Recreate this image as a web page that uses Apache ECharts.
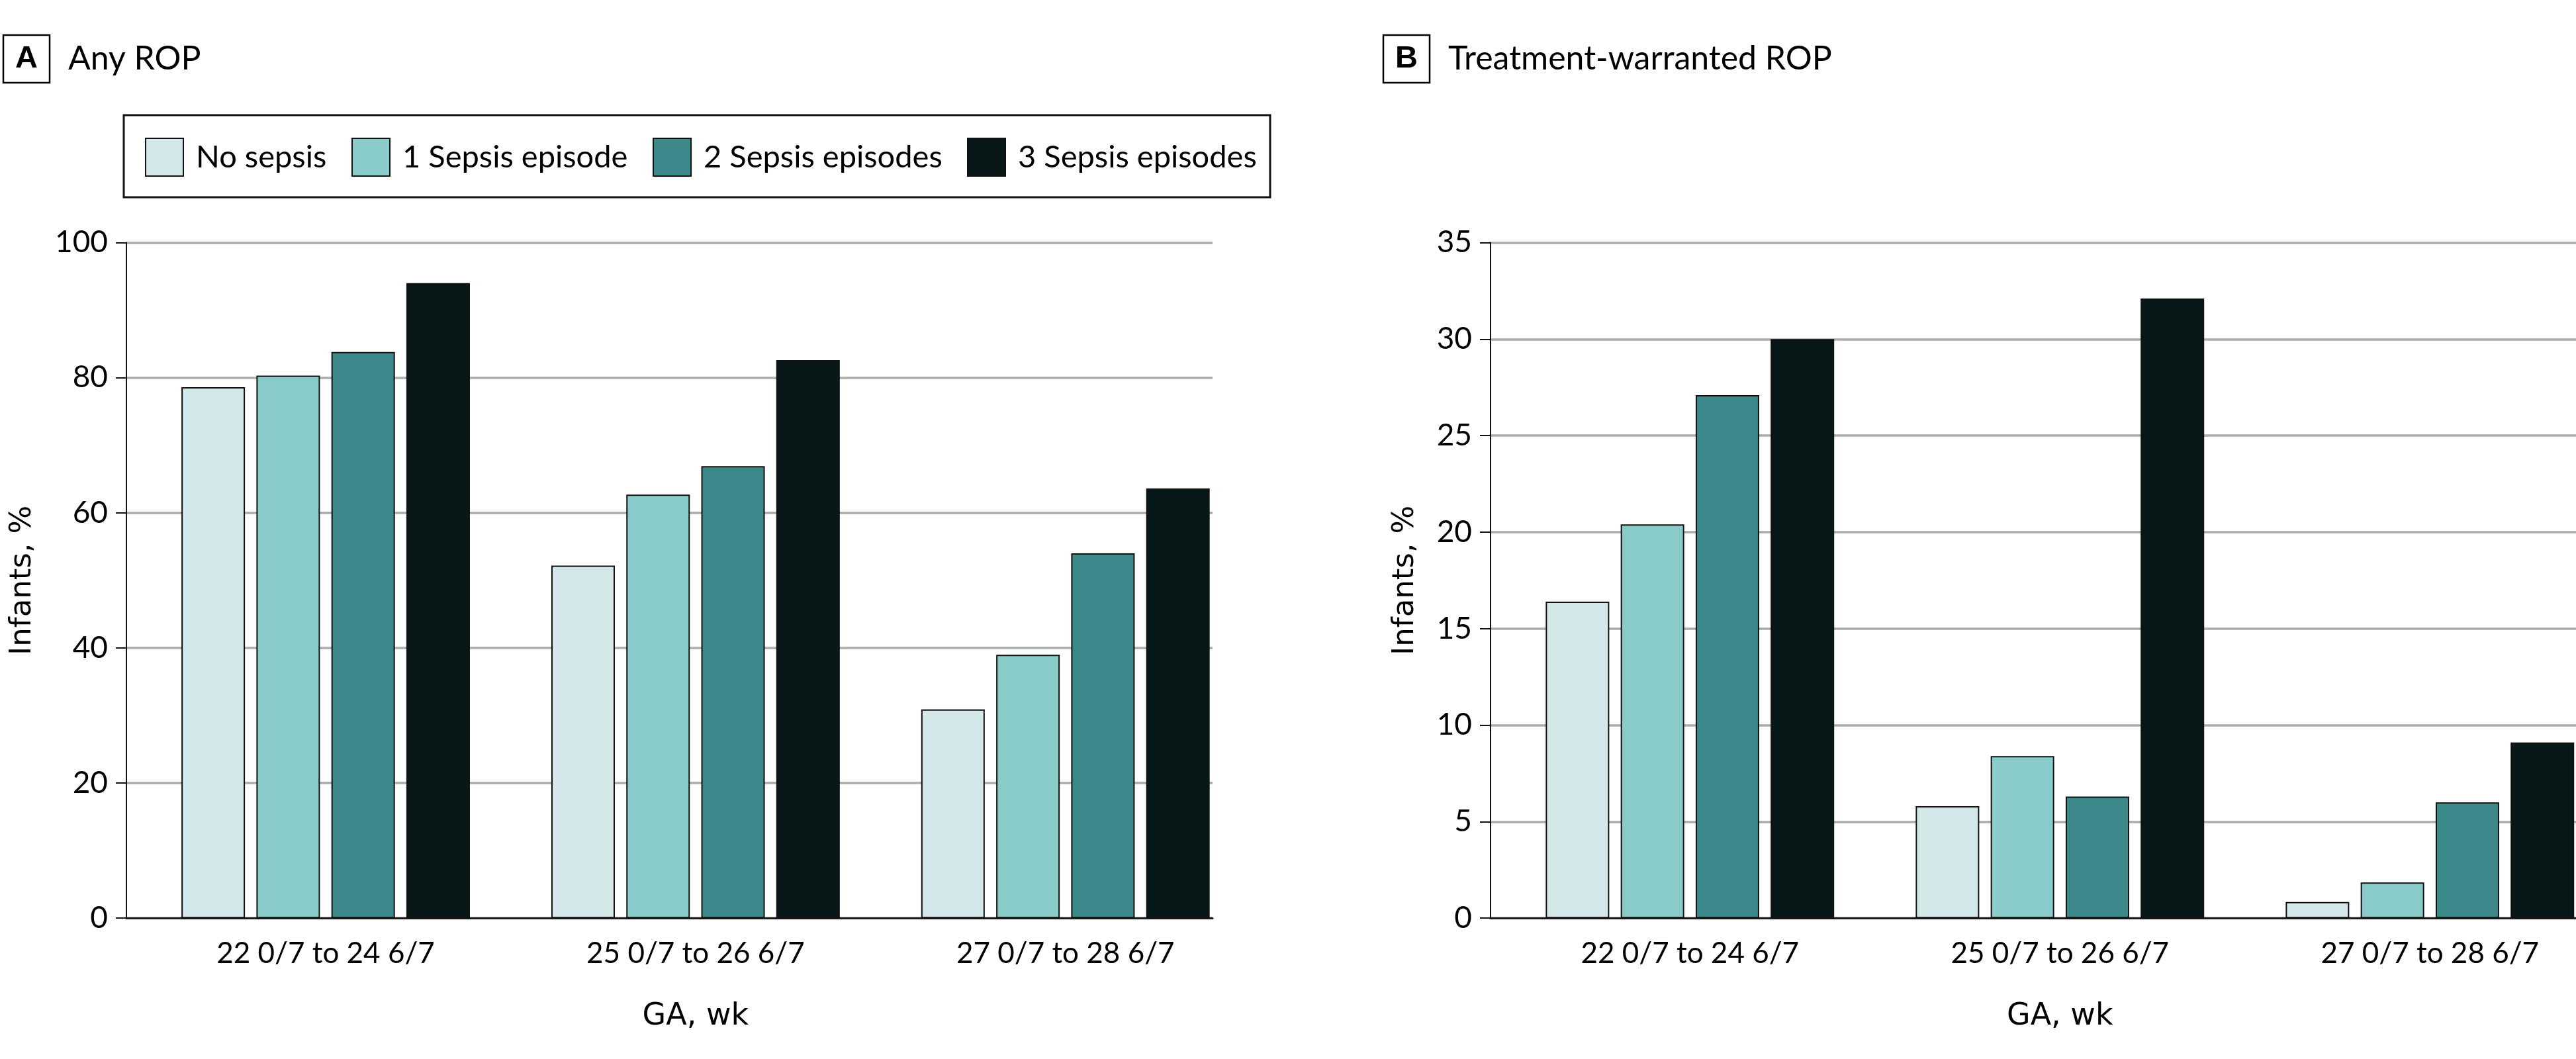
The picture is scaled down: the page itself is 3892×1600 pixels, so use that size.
<!DOCTYPE html>
<html>
<head>
<meta charset="utf-8">
<script src="https://cdn.jsdelivr.net/npm/echarts@6/dist/echarts.min.js"></script>
<style>html,body{margin:0;padding:0;background:#fff;}#main{width:3892px;height:1600px;}</style>
</head>
<body>
<div id="main"></div>
<script>
// ---- data ----
const categories = ['22 0/7 to 24 6/7', '25 0/7 to 26 6/7', '27 0/7 to 28 6/7'];
const seriesNames = ['No sepsis', '1 Sepsis episode', '2 Sepsis episodes', '3 Sepsis episodes'];
// Panel A: Any ROP (%)
const anyNoSepsis = [78.6, 52.2, 30.9];
const anySepsis1 = [80.3, 62.7, 39.0];
const anySepsis2 = [83.8, 66.9, 54.0];
const anySepsis3 = [94.0, 82.6, 63.6];
// Panel B: Treatment-warranted ROP (%)
const trtNoSepsis = [16.4, 5.8, 0.84];
const trtSepsis1 = [20.4, 8.4, 1.85];
const trtSepsis2 = [27.1, 6.3, 6.0];
const trtSepsis3 = [30.0, 32.1, 9.1];
// axis ticks
const yTicksA = [0, 20, 40, 60, 80, 100];
const yTicksB = [0, 5, 10, 15, 20, 25, 30, 35];
const panelTitles = ['Any ROP', 'Treatment-warranted ROP'];
const panelLetters = ['A', 'B'];
const xAxisName = 'GA, wk';
const yAxisName = 'Infants, %';

// ---- styles ----
const colors = ['#d4e8ea', '#88cbc9', '#3b8989', '#081818'];
const NARROW = "Lato, 'Liberation Sans', sans-serif";
const WIDE = "'DejaVu Sans', Verdana, sans-serif";
const PLOT_TOP = 366.5, PLOT_H = 1020.7;

const chart = echarts.init(document.getElementById('main'));

function frameY(gridIndex, ticks, nameGap) {
  return {
    gridIndex, type: 'value', min: ticks[0], max: ticks[ticks.length - 1],
    interval: ticks[1] - ticks[0],
    axisLine: {show: true, lineStyle: {color: '#111', width: 2}},
    axisTick: {show: true, length: 16, lineStyle: {color: '#111', width: 2}},
    axisLabel: {margin: 28, fontSize: 46, fontFamily: NARROW, color: '#000'},
    splitLine: {show: true, lineStyle: {color: '#ababab', width: 3.5}},
    name: yAxisName, nameLocation: 'middle', nameRotate: 90, nameGap,
    nameTextStyle: {fontFamily: WIDE, fontSize: 45, color: '#000'}
  };
}
function hiddenY(gridIndex, ticks) {
  return {gridIndex, type: 'value', min: ticks[0], max: ticks[ticks.length - 1],
    interval: ticks[1] - ticks[0], show: false, splitLine: {show: false}};
}
function barX(gridIndex) {
  return {
    gridIndex, type: 'category', data: categories,
    axisLine: {show: false}, axisTick: {show: false}, splitLine: {show: false},
    axisLabel: {margin: 32, fontSize: 44, fontFamily: NARROW, color: '#000'},
    name: xAxisName, nameLocation: 'middle', nameGap: 126,
    nameTextStyle: {fontFamily: WIDE, fontSize: 46, color: '#000'}
  };
}
function frameX(gridIndex) {
  return {
    gridIndex, type: 'category', data: categories,
    axisLine: {show: true, lineStyle: {color: '#1a1a1a', width: 3}},
    axisTick: {show: false}, axisLabel: {show: false}, splitLine: {show: false}
  };
}
function barSeries(name, data, idx, axisIndex) {
  return {
    type: 'bar', name, data, xAxisIndex: axisIndex, yAxisIndex: axisIndex,
    barWidth: 96, barGap: '18%',
    itemStyle: {color: colors[idx], borderColor: '#111', borderWidth: 2},
    emphasis: {disabled: true}
  };
}
function titleOpt(letter, text, left) {
  return {
    left, top: 48,
    text: '{b|' + letter + '}{t|' + text + '}',
    textStyle: {
      fontWeight: 'normal',
      rich: {
        b: {fontFamily: "'Liberation Sans', sans-serif", fontWeight: 'bold', fontSize: 47, color: '#000',
            borderColor: '#000', borderWidth: 2.5, width: 70, height: 72, lineHeight: 72, align: 'center'},
        t: {fontFamily: NARROW, fontWeight: 'normal', fontSize: 50, color: '#000', padding: [0, 0, 0, 28]}
      }
    }
  };
}

const legendLeft = [219, 531, 986, 1461];

const option = {
  backgroundColor: '#fff',
  animation: false,
  title: [titleOpt(panelLetters[0], panelTitles[0], 0), titleOpt(panelLetters[1], panelTitles[1], 2085)],
  legend: seriesNames.map((n, i) => ({
    data: [n], left: legendLeft[i], top: 208, padding: 0, orient: 'horizontal',
    itemWidth: 57, itemHeight: 57, icon: 'rect', selectedMode: false,
    itemStyle: {borderColor: '#111', borderWidth: 2},
    textStyle: {fontFamily: NARROW, fontSize: 47, color: '#000', padding: [0, 0, 0, 14]}
  })),
  graphic: [{
    type: 'rect', shape: {x: 187, y: 174, width: 1732, height: 124},
    style: {fill: 'none', stroke: '#111', lineWidth: 3}, silent: true
  }],
  grid: [
    {left: 212.6, top: PLOT_TOP, width: 1676.6, height: PLOT_H, outerBoundsMode: 'none', containLabel: false},
    {left: 191, top: PLOT_TOP, width: 1641, height: PLOT_H, outerBoundsMode: 'none', containLabel: false},
    {left: 2273.8, top: PLOT_TOP, width: 1677, height: PLOT_H, outerBoundsMode: 'none', containLabel: false},
    {left: 2252, top: PLOT_TOP, width: 1640, height: PLOT_H, outerBoundsMode: 'none', containLabel: false}
  ],
  xAxis: [barX(0), frameX(1), barX(2), frameX(3)],
  yAxis: [hiddenY(0, yTicksA), frameY(1, yTicksA, 134), hiddenY(2, yTicksB), frameY(3, yTicksB, 106)],
  series: [
    barSeries(seriesNames[0], anyNoSepsis, 0, 0),
    barSeries(seriesNames[1], anySepsis1, 1, 0),
    barSeries(seriesNames[2], anySepsis2, 2, 0),
    barSeries(seriesNames[3], anySepsis3, 3, 0),
    barSeries(seriesNames[0], trtNoSepsis, 0, 2),
    barSeries(seriesNames[1], trtSepsis1, 1, 2),
    barSeries(seriesNames[2], trtSepsis2, 2, 2),
    barSeries(seriesNames[3], trtSepsis3, 3, 2)
  ]
};
chart.setOption(option);
</script>
</body>
</html>
